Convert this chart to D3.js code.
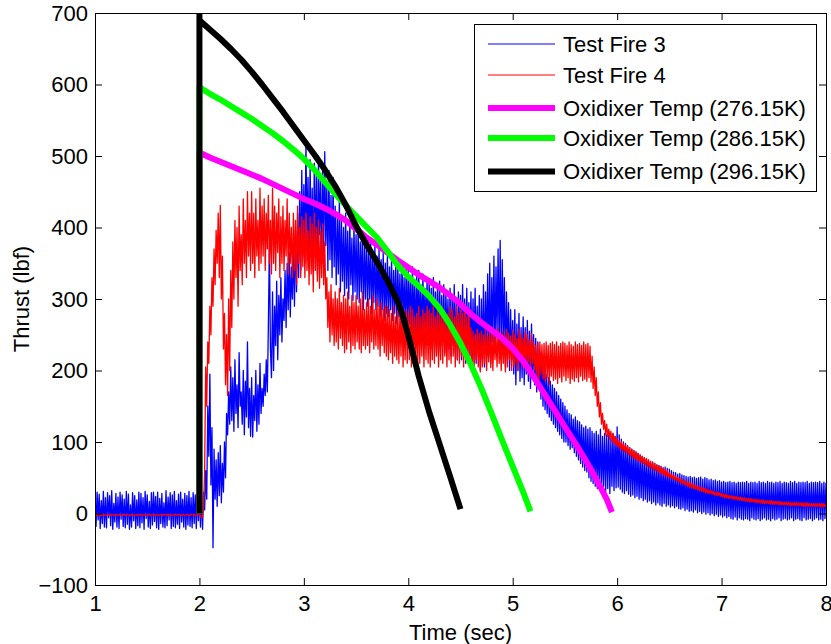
<!DOCTYPE html>
<html>
<head>
<meta charset="utf-8">
<script src="https://cdn.jsdelivr.net/npm/d3@7"></script>
<style>
  body { margin: 0; background: #fff; }
  svg text { font-family: "Liberation Sans", Arial, sans-serif; }
</style>
</head>
<body>
<div id="chart"></div>
<script>
// measured thrust, sampled at 100 Hz from t = 1 s
const SAMPLE_T0 = 1
const SAMPLE_DT = 0.01

const testFire3 = [
  24,-18,30,-9,27,-21,18,-14,31,-19, 22,-20,29,-6,25,-17,32,-22,14,-12,
  28,-19,23,-21,30,-8,26,-18,20,-20, 31,-15,27,-22,12,-19,29,-10,25,-21,
  19,-17,30,-20,28,-13,22,-22,31,-7, 26,-19,17,-21,29,-16,30,-11,24,-20,
  30,-22,21,-14,28,-19,15,-20,32,-17, 23,-9,29,-21,26,-18,31,-20,18,-15,
  27,-21,30,-12,20,-19,28,-22,25,-16, 31,-18,22,-20,29,-14,26,-21,30,-10,
  24,-19,28,-22,30,5,60,20,150,80, 195,40,120,-48,90,20,75,10,85,25,
  95,15,70,30,100,50,140,110,170,125, 205,130,190,115,215,140,180,120,225,150,
  170,125,200,110,185,135,240,120,175,108, 190,107,165,130,200,115,180,125,210,140,
  175,150,195,165,215,170,260,378,230,190, 310,200,290,235,325,215,305,250,330,240,
  300,270,340,260,350,285,365,275,345,300, 370,290,395,310,420,330,450,340,480,360,
  460,350,522,380,470,345,495,360,455,340, 490,370,475,335,500,390,465,350,485,365,
  506,375,460,340,480,355,445,330,470,345, 430,320,415,335,440,310,410,325,400,305,
  420,315,395,300,410,320,385,298,405,310, 390,300,400,295,380,310,395,285,375,300,
  385,290,370,300,380,280,365,295,375,285, 360,290,370,275,355,285,365,270,350,280,
  360,275,345,285,355,270,340,280,350,265, 345,275,335,260,350,270,330,265,345,255,
  340,265,330,250,345,260,325,245,335,255, 340,250,320,240,335,255,315,245,330,235,
  325,250,315,230,330,245,310,240,320,225, 325,235,305,240,320,225,310,245,300,230,
  315,220,305,235,320,225,300,215,310,230, 305,215,320,230,300,210,315,225,295,220,
  310,205,300,225,315,210,290,220,305,200, 300,215,320,205,310,230,335,220,350,210,
  330,240,360,225,345,250,370,230,382,215, 355,240,330,205,310,225,295,200,285,215,
  270,195,285,180,265,200,280,185,260,190, 275,180,260,195,270,185,255,175,265,190,
  250,180,245,170,240,175,225,160,215,150, 205,145,195,140,190,135,185,130,180,125,
  175,120,170,115,165,110,160,105,155,100, 150,100,145,95,140,90,138,92,132,85,
  135,80,130,75,128,70,124,65,120,60, 122,58,118,50,120,45,115,42,112,38,
  115,35,110,40,118,32,108,38,112,30, 110,35,115,28,105,38,112,32,108,36,
  121,37,110,34,104,30,100,28,98,32, 95,27,92,24,90,26,88,22,86,24,
  84,20,82,22,80,18,78,20,76,16, 75,18,73,14,72,16,70,12,68,15,
  67,12,66,10,64,14,65,10,63,12, 62,9,60,11,58,8,57,10,55,7,
  56,6,54,8,53,4,52,6,51,3, 52,4,50,2,51,5,49,1,50,3,
  51,0,48,2,50,-1,49,1,47,-2, 48,0,46,-3,47,-1,45,-4,46,-2,
  44,-5,45,-3,43,-6,44,-4,45,-7, 43,-8,44,-5,42,-9,44,-6,43,-8,
  44,-9,43,-7,45,-8,42,-10,44,-6, 43,-8,44,-9,42,-7,45,-10,43,-8,
  44,-6,42,-9,45,-8,43,-10,44,-7, 42,-9,44,-8,43,-6,45,-10,42,-8,
  44,-7,43,-9,42,-8,45,-6,43,-10, 45,-8,42,-7,44,-9,43,-10,44,-6,
  43,-9,45,-8,42,-7,44,-10,43,-8, 44,-6,43,-9,45,-8,42,-10,44,-7,
  43
]

const testFire4 = [
  -2,-1,-3,-2,-1,-2,-3,-2,-1,-2, -3,-2,-1,-2,-2,-3,-1,-2,-3,-2,
  -1,-2,-3,-1,-2,-2,-3,-2,-1,-3, -2,-1,-2,-3,-2,-1,-2,-3,-2,-2,
  -3,-1,-2,-2,-1,-3,-2,-1,-2,-3, -2,-2,-1,-3,-2,-2,-1,-2,-3,-1,
  -2,-3,-2,-1,-2,-3,-1,-2,-2,-1, -3,-2,-1,-2,-3,-2,-2,-1,-3,-2,
  -1,-2,-2,-3,-1,-2,-3,-2,-1,-2, -2,-3,-1,-2,-2,-1,-3,-2,-2,-1,
  -2,-3,-6,-5,10,60,205,150,240,210, 290,250,330,290,370,320,396,350,420,330,
  431,300,360,230,280,180,250,165,300,200, 340,260,380,300,410,330,400,290,430,340,
  390,320,440,350,410,330,450,360,420,340, 450,350,420,330,440,360,410,340,455,350,
  430,360,440,340,420,370,445,350,410,335, 455,350,430,340,420,365,440,330,415,350,
  430,340,410,360,440,335,420,350,400,330, 420,340,410,320,430,350,400,330,415,345,
  410,330,420,340,395,320,415,335,405,310, 420,340,400,325,410,315,395,330,405,320,
  380,300,330,260,310,240,320,250,300,235, 310,240,300,230,315,245,295,235,305,225,
  300,230,310,240,290,225,305,235,295,230, 305,240,290,230,300,225,310,235,285,230,
  295,235,300,225,290,240,305,230,285,235, 300,230,290,220,295,235,285,225,290,220,
  290,215,285,225,280,210,290,220,275,215, 285,210,280,220,290,205,275,215,285,210,
  280,215,290,205,285,220,275,210,280,205, 290,210,275,220,285,205,280,215,290,210,
  285,205,280,215,290,210,275,220,285,205, 280,215,290,210,285,220,275,205,280,215,
  290,210,285,220,275,205,290,215,280,210, 285,220,280,205,290,215,275,210,285,220,
  260,210,255,200,250,215,258,205,252,198, 255,205,250,210,260,200,248,212,256,204,
  258,200,252,215,250,205,260,210,245,200, 255,210,250,198,258,205,252,215,248,200,
  256,205,250,210,245,200,258,212,250,205, 245,208,255,200,250,212,242,205,252,210,
  240,200,235,190,238,185,240,195,236,188, 238,185,240,190,235,180,238,192,240,186,
  236,188,240,182,234,190,238,184,240,192, 238,186,235,190,240,182,236,188,234,185,
  240,190,236,184,238,192,235,186,240,188, 236,185,238,190,234,184,220,175,205,165,
  190,150,170,135,155,125,140,118,130,110, 125,108,118,104,115,100,112,98,108,95,
  105,93,102,90,100,88,98,86,96,85, 94,82,92,80,90,78,88,76,86,75,
  84,73,82,71,80,70,78,68,77,66, 75,64,73,63,71,61,70,60,68,58,
  67,56,65,55,63,53,62,52,60,50, 57,50,55,48,54,47,52,46,51,44,
  49,43,48,41,46,40,45,39,44,37, 43,36,42,35,40,34,39,33,38,32,
  37,31,36,30,35,29,34,28,33,28, 32,27,31,26,30,25,30,25,29,24,
  28,23,27,22,27,22,26,21,25,21, 25,20,24,20,24,19,23,19,23,18,
  22,18,22,17,21,17,21,16,21,16, 20,16,20,15,20,15,19,15,19,14,
  19,14,18,14,18,14,18,13,18,13, 17,13,17,13,17,12,17,12,16,12,
  16,12,16,12,16,11,16,11,15,11, 16,11,15,11,15,11,15,10,15,10,
  15,10,15,10,14,10,14,10,14,10, 14,10,14,10,14,9,14,9,14,10,
  12
]

// model predictions for three oxidizer temperatures
const temp276Time = [2.0, 2.0, 2.1, 2.2, 2.3, 2.4, 2.5, 2.6, 2.7, 2.8, 2.9, 3.0, 3.1, 3.2, 3.3, 3.4, 3.5,
  3.6, 3.7, 3.8, 3.9, 4.0, 4.1, 4.2, 4.3, 4.4, 4.5, 4.6, 4.7, 4.8, 4.9, 5.0, 5.1, 5.2, 5.3, 5.4, 5.5,
  5.6, 5.7, 5.8, 5.9, 5.95]
const temp276Thrust = [0, 505, 498, 492, 486, 480, 474, 468, 461, 454, 447, 440, 434, 427, 419, 410, 398,
  386, 376, 365, 354, 344, 334, 325, 316, 305, 293, 279, 267, 256, 245, 231, 213, 191, 168, 145, 121,
  98, 74, 48, 20, 2]

const temp286Time = [2.0, 2.0, 2.1, 2.2, 2.3, 2.4, 2.5, 2.6, 2.7, 2.8, 2.9, 3.0, 3.1, 3.2, 3.3, 3.4, 3.5,
  3.6, 3.7, 3.8, 3.9, 4.0, 4.1, 4.2, 4.3, 4.4, 4.5, 4.6, 4.7, 4.8, 4.9, 5.0, 5.1, 5.17]
const temp286Thrust = [0, 596, 587, 579, 570, 561, 552, 542, 532, 521, 509, 496, 481, 464, 447, 431, 416,
  401, 386, 367, 347, 331, 318, 304, 287, 264, 238, 208, 175, 139, 102, 66, 30, 3]

const temp296Time = [2.0, 2.0, 2.0, 2.1, 2.2, 2.3, 2.4, 2.5, 2.6, 2.7, 2.8, 2.9, 3.0, 3.1, 3.2, 3.3, 3.4,
  3.5, 3.6, 3.7, 3.8, 3.9, 3.95, 4.0, 4.1, 4.2, 4.3, 4.4, 4.5]
const temp296Thrust = [0, 730, 690, 677, 664, 650, 635, 618, 600, 581, 562, 542, 522, 502, 481, 458, 432,
  402, 376, 352, 326, 296, 275, 249, 192, 142, 97, 52, 6]

const seriesNames = ["Test Fire 3", "Test Fire 4", "Oxidixer Temp (276.15K)",
  "Oxidixer Temp (286.15K)", "Oxidixer Temp (296.15K)"]
const seriesColors = ["#0000ff", "#ff0000", "#ff00ff", "#00ff00", "#000000"]
const seriesWidths = [1.3, 1.3, 6, 6, 6]

const xTicks = [1, 2, 3, 4, 5, 6, 7, 8]
const yTicks = [-100, 0, 100, 200, 300, 400, 500, 600, 700]

const MARGIN = { LEFT: 95, RIGHT: 5, TOP: 13, BOTTOM: 59 }
const WIDTH = 831 - MARGIN.LEFT - MARGIN.RIGHT
const HEIGHT = 644 - MARGIN.TOP - MARGIN.BOTTOM
const FONT = 22

const svg = d3.select("#chart").append("svg")
  .attr("width", WIDTH + MARGIN.LEFT + MARGIN.RIGHT)
  .attr("height", HEIGHT + MARGIN.TOP + MARGIN.BOTTOM)

const g = svg.append("g")
  .attr("transform", `translate(${MARGIN.LEFT}, ${MARGIN.TOP})`)

const x = d3.scaleLinear().domain([1, 8]).range([0, WIDTH])
const y = d3.scaleLinear().domain([-100, 700]).range([HEIGHT, 0])

g.append("clipPath").attr("id", "plot-clip")
  .append("rect").attr("width", WIDTH).attr("height", HEIGHT)

const sampled = vals => vals.map((v, i) => [SAMPLE_T0 + i * SAMPLE_DT, v])
const paired = (ts, vs) => ts.map((t, i) => [t, vs[i]])

const series = [
  sampled(testFire3),
  sampled(testFire4),
  paired(temp276Time, temp276Thrust),
  paired(temp286Time, temp286Thrust),
  paired(temp296Time, temp296Thrust)
]

const line = d3.line()
  .x(d => x(d[0]))
  .y(d => y(d[1]))

g.append("g").attr("clip-path", "url(#plot-clip)")
  .selectAll("path")
  .data(series)
  .enter().append("path")
    .attr("d", line)
    .attr("fill", "none")
    .attr("stroke", (d, i) => seriesColors[i])
    .attr("stroke-width", (d, i) => seriesWidths[i])
    .attr("stroke-linejoin", "round")

// axes, MATLAB style: ticks pointing inward on all four sides
const styleAxis = sel => {
  sel.attr("font-size", FONT).attr("font-family", null)
  sel.selectAll("text").attr("fill", "#000")
  sel.selectAll("line, path").attr("stroke", "#000")
}

g.append("g")
  .attr("transform", `translate(0, ${HEIGHT})`)
  .call(d3.axisBottom(x).tickValues(xTicks).tickFormat(d3.format("d"))
    .tickSizeInner(-7).tickSizeOuter(0).tickPadding(10))
  .call(styleAxis)

g.append("g")
  .call(d3.axisLeft(y).tickValues(yTicks).tickFormat(d3.format("d"))
    .tickSizeInner(-7).tickSizeOuter(0).tickPadding(7))
  .call(styleAxis)

g.append("g")
  .call(d3.axisTop(x).tickValues(xTicks).tickSizeInner(-7).tickSizeOuter(0).tickFormat(""))
  .call(styleAxis)

g.append("g")
  .attr("transform", `translate(${WIDTH}, 0)`)
  .call(d3.axisRight(y).tickValues(yTicks).tickSizeInner(-7).tickSizeOuter(0).tickFormat(""))
  .call(styleAxis)

// axis labels
svg.append("text")
  .attr("x", MARGIN.LEFT + WIDTH / 2)
  .attr("y", 640)
  .attr("text-anchor", "middle")
  .attr("font-size", FONT)
  .text("Time (sec)")

svg.append("text")
  .attr("transform", `translate(29, ${MARGIN.TOP + HEIGHT / 2}) rotate(-90)`)
  .attr("text-anchor", "middle")
  .attr("font-size", FONT)
  .text("Thrust (lbf)")

// legend
const legend = svg.append("g").attr("transform", "translate(474, 24)")

legend.append("rect")
  .attr("x", 0.5).attr("y", 0.5)
  .attr("width", 342).attr("height", 167)
  .attr("fill", "#fff")
  .attr("stroke", "#000")

const rowY = [20, 51, 84, 114, 147.5]

const rows = legend.selectAll("g.row")
  .data(seriesNames)
  .enter().append("g")
    .attr("class", "row")
    .attr("transform", (d, i) => `translate(0, ${rowY[i]})`)

rows.append("line")
  .attr("x1", 14).attr("x2", 81)
  .attr("stroke", (d, i) => seriesColors[i])
  .attr("stroke-width", (d, i) => i < 2 ? 1 : seriesWidths[i])

rows.append("text")
  .attr("x", 89)
  .attr("dy", "0.36em")
  .attr("font-size", FONT)
  .text(d => d)
</script>
</body>
</html>
